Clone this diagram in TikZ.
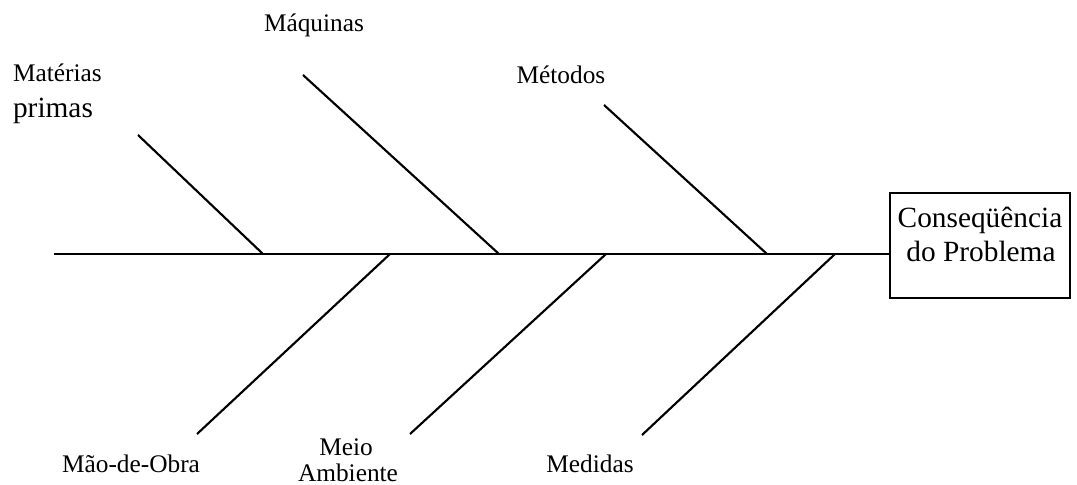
\documentclass[tikz,border=0pt]{standalone}
\usepackage{fontspec}
\setmainfont{Liberation Serif}
\begin{document}
\begin{tikzpicture}[x=0.75pt,y=-0.75pt,line width=1.6pt,
  lbl/.style={font=\fontsize{19}{21}\selectfont,anchor=base,inner sep=0pt},
  lblw/.style={font=\fontsize{19}{21}\selectfont,anchor=base west,inner sep=0pt},
  big/.style={font=\fontsize{22}{24}\selectfont,anchor=base,inner sep=0pt},
  bigw/.style={font=\fontsize{22}{24}\selectfont,anchor=base west,inner sep=0pt},
  effect/.style={draw,line width=1.6pt,minimum width=135pt,minimum height=78.75pt,inner sep=0pt},
  bone/.style={line width=1.6pt}]
\useasboundingbox (0,0) rectangle (1077,485);
% effect box
\node[effect] (box) at (980,245.5) {};
\node[big] (eff1) at (980,227) {Conseqüência};
\node[big] (eff2) at (981,261) {do Problema};
% spine
\coordinate (spineL) at (54,254);
\draw[bone] (spineL) -- (spineL -| box.west);
% upper bones
\coordinate (matT) at (138,135);  \coordinate (matB) at (263,254);
\coordinate (maqT) at (303,75);   \coordinate (maqB) at (499,254);
\coordinate (metT) at (604,105);  \coordinate (metB) at (767,254);
\draw[bone] (matT) -- (matB);
\draw[bone] (maqT) -- (maqB);
\draw[bone] (metT) -- (metB);
% lower bones
\coordinate (maoT) at (390,254);  \coordinate (maoB) at (197,434);
\coordinate (meiT) at (606,254);  \coordinate (meiB) at (410,434);
\coordinate (medT) at (835,254);  \coordinate (medB) at (642,435);
\draw[bone] (maoT) -- (maoB);
\draw[bone] (meiT) -- (meiB);
\draw[bone] (medT) -- (medB);
% labels
\node[lblw] (mat1) at (12,82) {Matérias};
\node[bigw] (mat2) at (12,117) {primas};
\node[lbl] (maq) at (314,32) {Máquinas};
\node[lbl] (met) at (561,84) {Métodos};
\node[lbl] (mao) at (131,472) {Mão-de-Obra};
\node[lbl] (mei1) at (346,455) {Meio};
\node[lbl] (mei2) at (348,481) {Ambiente};
\node[lbl] (med) at (590,472) {Medidas};
\end{tikzpicture}
\end{document}
